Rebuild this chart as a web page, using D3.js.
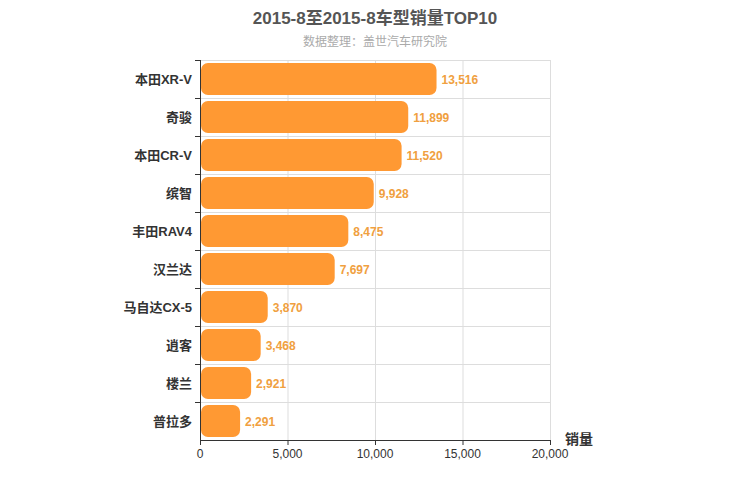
<!DOCTYPE html>
<html><head><meta charset="utf-8">
<script src="https://cdn.jsdelivr.net/npm/d3@7"></script>
<style>body{margin:0;background:#fff;font-family:"Liberation Sans","Noto Sans CJK SC",sans-serif}</style>
</head><body><div id="chart"></div>
<script>
var categories = ['本田XR-V', '奇骏', '本田CR-V', '缤智', '丰田RAV4', '汉兰达', '马自达CX-5', '逍客', '楼兰', '普拉多'];
var sales = [13516, 11899, 11520, 9928, 8475, 7697, 3870, 3468, 2921, 2291];
var ticks = [0, 5000, 10000, 15000, 20000];

var width = 750, height = 500;
var mLeft = 200, mRight = 550, mTop = 60, mBottom = 440;

var svg = d3.select('#chart').append('svg').attr('width', width).attr('height', height);

var x = d3.scaleLinear().domain([0, 20000]).range([mLeft, mRight]);
var y = d3.scaleBand().domain(categories).range([mTop, mBottom]).paddingInner(0.16).paddingOuter(0.08);
var rows = d3.scaleBand().domain(categories).range([mTop, mBottom]);

// grid
svg.append('g').selectAll('line').data(ticks).enter().append('line')
  .attr('x1', d => x(d) + 0.5).attr('x2', d => x(d) + 0.5)
  .attr('y1', mTop).attr('y2', mBottom).attr('stroke', '#ddd');
svg.append('g').selectAll('line').data(categories).enter().append('line')
  .attr('x1', mLeft).attr('x2', mRight)
  .attr('y1', d => Math.round(rows(d)) + 0.5).attr('y2', d => Math.round(rows(d)) + 0.5)
  .attr('stroke', '#ddd');

// axes
svg.append('line').attr('x1', mLeft + 0.5).attr('x2', mLeft + 0.5).attr('y1', mTop).attr('y2', mBottom).attr('stroke', '#333');
svg.append('line').attr('x1', mLeft).attr('x2', mRight).attr('y1', mBottom + 0.5).attr('y2', mBottom + 0.5).attr('stroke', '#333');
svg.append('g').selectAll('line').data(ticks).enter().append('line')
  .attr('x1', d => x(d) + 0.5).attr('x2', d => x(d) + 0.5)
  .attr('y1', mBottom).attr('y2', mBottom + 5).attr('stroke', '#333');
svg.append('g').selectAll('text').data(ticks).enter().append('text')
  .attr('x', d => x(d)).attr('y', mBottom + 18).attr('text-anchor', 'middle')
  .attr('font-size', 12).attr('fill', '#333').text(d3.format(','));
svg.append('g').selectAll('line').data(categories).enter().append('line')
  .attr('x1', mLeft - 5).attr('x2', mLeft)
  .attr('y1', d => Math.round(rows(d)) + 0.5).attr('y2', d => Math.round(rows(d)) + 0.5)
  .attr('stroke', '#333');
svg.append('g').selectAll('text').data(categories).enter().append('text')
  .attr('x', mLeft - 8).attr('y', d => rows(d) + rows.bandwidth() / 2 + 5)
  .attr('text-anchor', 'end').attr('font-size', 13).attr('font-weight', 'bold')
  .attr('fill', '#333').text(d => d);

// bars
svg.append('g').selectAll('rect').data(sales).enter().append('rect')
  .attr('x', mLeft + 1).attr('y', (d, i) => y(categories[i]))
  .attr('width', d => x(d) - mLeft - 1).attr('height', y.bandwidth())
  .attr('rx', 7).attr('fill', '#ff9933');
svg.append('g').selectAll('text').data(sales).enter().append('text')
  .attr('x', d => x(d) + 5).attr('y', (d, i) => y(categories[i]) + y.bandwidth() / 2 + 5)
  .attr('font-size', 12).attr('font-weight', 'bold').attr('fill', '#f0a040')
  .text(d3.format(','));

// titles
svg.append('text').attr('x', 375).attr('y', 24).attr('text-anchor', 'middle')
  .attr('font-size', 17).attr('font-weight', 'bold').attr('fill', '#555').text('2015-8至2015-8车型销量TOP10');
svg.append('text').attr('x', 375).attr('y', 46).attr('text-anchor', 'middle')
  .attr('font-size', 12).attr('fill', '#aaa').text('数据整理：盖世汽车研究院');
svg.append('text').attr('x', 565).attr('y', 444)
  .attr('font-size', 14).attr('font-weight', 'bold').attr('fill', '#333').text('销量');
</script></body></html>
